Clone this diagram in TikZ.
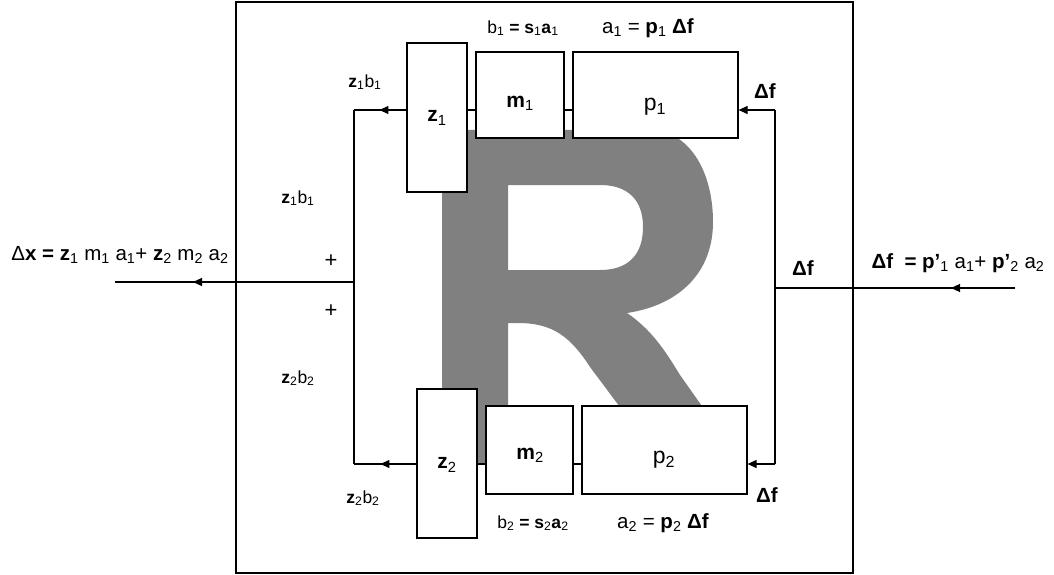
\documentclass[tikz,border=0pt]{standalone}
\usepackage{fontspec}
\setmainfont{Liberation Sans}
\usetikzlibrary{arrows.meta,decorations.markings}
\newcommand{\sbx}[1]{\textsubscript{#1}}
\tikzset{
  blk/.style={draw, fill=white, line width=1.2pt, inner sep=0pt},
  conn/.style={line width=1.1pt},
  tip/.style={-{Triangle[length=9pt,width=8pt]}},
  midarrow/.style={postaction={decorate}, decoration={markings, mark=at position #1 with {\arrow{Triangle[length=9pt,width=8pt]}}}},
  lbl/.style={inner sep=0pt, font=\fontsize{20.5}{24}\selectfont},
  slbl/.style={inner sep=0pt, font=\fontsize{17.5}{21}\selectfont},
  blbl/.style={inner sep=0pt, font=\fontsize{21}{25}\selectfont},
  plbl/.style={inner sep=0pt, font=\fontsize{23}{27}\selectfont},
}
\begin{document}
\begin{tikzpicture}[x=1pt,y=-1pt]
\useasboundingbox (0,0) rectangle (1054,575);
% frame
\node[draw, line width=1.4pt, minimum width=617pt, minimum height=571pt, inner sep=0pt] (frame) at (544.5,287.5) {};
% big R
\fill[black!50, even odd rule]
  (442,130) -- (650,130) .. controls (688,130) and (713,170) .. (713,222)
  .. controls (713,272) and (680,305) .. (627,313)
  .. controls (652,330) and (666,352) .. (680,375)
  -- (733,450) -- (652,450) -- (590,367)
  .. controls (570,336) and (552,323) .. (518,323)
  -- (508,323) -- (508,463) -- (442,463) -- cycle
  (508,185) -- (600,185) .. controls (628,185) and (643,200) .. (643,227)
  .. controls (643,255) and (628,270) .. (600,270) -- (508,270) -- cycle;
% coordinates
\coordinate (L1) at (354,110);
\coordinate (L2) at (354,464);
\coordinate (J) at (354,282);
\coordinate (OUT) at (115,282);
\coordinate (R1) at (775,110);
\coordinate (R2) at (775,464);
\coordinate (RJ) at (775,288);
\coordinate (IN) at (1015,288);
% connectors (under boxes)
\draw[conn] (L1) -- (L2);
\draw[conn] (R1) -- (R2);
\draw[conn, midarrow=161pt] (J) -- (OUT);
\draw[conn, midarrow=64pt] (IN) -- (RJ);
% boxes
\node[blk, minimum width=60pt, minimum height=149pt] (z1) at (437,117.5) {};
\node[blk, minimum width=88pt, minimum height=86pt] (m1) at (520,95) {};
\node[blk, minimum width=165pt, minimum height=86pt] (p1) at (655.5,95) {};
\node[blk, minimum width=60pt, minimum height=149pt] (z2) at (447,463.5) {};
\node[blk, minimum width=87pt, minimum height=88pt] (m2) at (529.5,450) {};
\node[blk, minimum width=165pt, minimum height=88pt] (p2) at (664.5,450) {};
% links between boxes
\draw[conn] (z1.east |- L1) -- (m1.west |- L1);
\draw[conn] (m1.east |- L1) -- (p1.west |- L1);
\draw[conn] (z2.east |- L2) -- (m2.west |- L2);
\draw[conn] (m2.east |- L2) -- (p2.west |- L2);
\draw[conn, midarrow=27pt] (z1.west |- L1) -- (L1);
\draw[conn, midarrow=36pt] (z2.west |- L2) -- (L2);
\draw[conn, tip] (R1) -- (p1.east |- R1);
\draw[conn, tip] (R2) -- (p2.east |- R2);
% box texts
\node[blbl] (tz1) at (437,118) {\textbf{z}\sbx{1}};
\node[blbl] (tm1) at (520,103) {\textbf{m}\sbx{1}};
\node[plbl] (tp1) at (655,107) {p\sbx{1}};
\node[blbl] (tz2) at (447,465) {\textbf{z}\sbx{2}};
\node[blbl] (tm2) at (530,455) {\textbf{m}\sbx{2}};
\node[plbl] (tp2) at (664,460) {p\sbx{2}};
% labels
\node[slbl] (b1) at (523,28) {b\sbx{1} \textbf{= s}\sbx{1}\textbf{a}\sbx{1}};
\node[lbl] (a1) at (648,28) {a\sbx{1} = \textbf{p}\sbx{1} \textbf{Δf}};
\node[slbl] (b2) at (533,523) {b\sbx{2} \textbf{= s}\sbx{2}\textbf{a}\sbx{2}};
\node[lbl] (a2) at (663,523) {a\sbx{2} = \textbf{p}\sbx{2} \textbf{Δf}};
\node[slbl] (zb1a) at (365,82) {\textbf{z}\sbx{1}b\sbx{1}};
\node[slbl] (zb1b) at (298,198) {\textbf{z}\sbx{1}b\sbx{1}};
\node[slbl] (zb2a) at (298,378) {\textbf{z}\sbx{2}b\sbx{2}};
\node[slbl] (zb2b) at (363,498) {\textbf{z}\sbx{2}b\sbx{2}};
\node[lbl] (plus1) at (331,261) {\fontsize{22}{24}\selectfont +};
\node[lbl] (plus2) at (331,311) {\fontsize{22}{24}\selectfont +};
\node[lbl] (df1) at (765,91) {\textbf{Δf}};
\node[lbl] (df2) at (767,495) {\textbf{Δf}};
\node[lbl] (df3) at (803,268) {\textbf{Δf}};
\node[lbl] (dx) at (120,255) {Δ\textbf{x = z}\sbx{1} m\sbx{1} a\sbx{1}+ \textbf{z}\sbx{2} m\sbx{2} a\sbx{2}};
\node[lbl] (dfin) at (958,263) {\textbf{Δf \ = p'}\sbx{1} a\sbx{1}+ \textbf{p'}\sbx{2} a\sbx{2}};
\end{tikzpicture}
\end{document}
